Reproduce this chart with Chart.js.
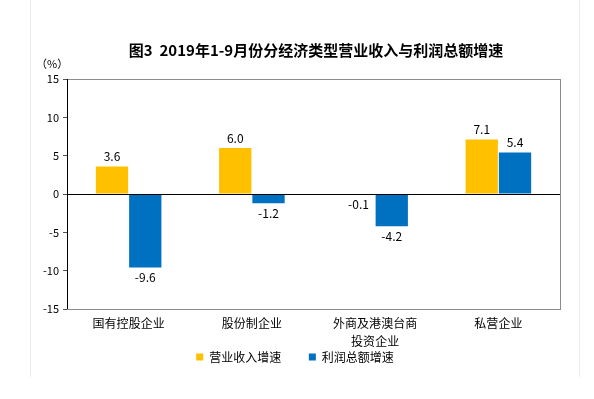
<!DOCTYPE html>
<html>
<head>
<meta charset="utf-8">
<script src="https://cdn.jsdelivr.net/npm/chart.js@4.4.0/dist/chart.umd.min.js"></script>
<style>
  html, body { margin: 0; padding: 0; background: #fff; }
  #wrap { position: relative; width: 594px; height: 399px; }
  #frame { position: absolute; left: 30px; top: 0; width: 550px; height: 377px;
           border-left: 1px solid #ececec; border-right: 1px solid #ececec; box-sizing: border-box; }
</style>
</head>
<body>
<div id="wrap">
  <div id="frame"></div>
  <canvas id="chart" width="594" height="399"></canvas>
</div>
<script>
// data
const categories = ['国有控股企业', '股份制企业', ['外商及港澳台商', '投资企业'], '私营企业'];
const revenueGrowth = [3.6, 6.0, -0.1, 7.1];
const profitGrowth = [-9.6, -1.2, -4.2, 5.4];
const seriesNames = ['营业收入增速', '利润总额增速'];
const yTicks = [-15, -10, -5, 0, 5, 10, 15];
const chartTitle = '图3  2019年1-9月份分经济类型营业收入与利润总额增速';

const FONT = '"Noto Sans CJK SC", "Noto Sans", sans-serif';

// plot frame, title, unit label
const framePlugin = {
  id: 'frame',
  beforeDatasetsDraw(chart) {
    const { ctx, chartArea: a } = chart;
    ctx.save();
    ctx.strokeStyle = '#8c8c8c';
    ctx.lineWidth = 1;
    ctx.strokeRect(a.left + 0.5, a.top + 0.5, a.right - a.left, a.bottom - a.top);
    ctx.restore();
  },
  afterDraw(chart) {
    const { ctx, chartArea: a } = chart;
    ctx.save();
    ctx.fillStyle = '#000';
    ctx.textBaseline = 'middle';
    ctx.font = 'bold 15px ' + FONT;
    ctx.textAlign = 'center';
    ctx.fillText(chartTitle, 316, 50);
    ctx.font = '11px ' + FONT;
    ctx.textAlign = 'left';
    ctx.fillText('（%）', a.left - 31, a.top - 15);
    // left axis + zero line on top
    const y0 = chart.scales.y.getPixelForValue(0);
    ctx.strokeStyle = '#000';
    ctx.beginPath();
    ctx.moveTo(a.left, y0 + 0.5);
    ctx.lineTo(a.right, y0 + 0.5);
    ctx.moveTo(a.left + 0.5, a.top);
    ctx.lineTo(a.left + 0.5, a.bottom);
    ctx.stroke();
    ctx.restore();
  }
};

// value labels
const labelPlugin = {
  id: 'valueLabels',
  afterDatasetsDraw(chart) {
    const { ctx } = chart;
    ctx.save();
    ctx.fillStyle = '#000';
    ctx.font = '12px ' + FONT;
    ctx.textAlign = 'center';
    chart.data.datasets.forEach((ds, i) => {
      chart.getDatasetMeta(i).data.forEach((bar, j) => {
        const v = ds.data[j];
        if (v >= 0) {
          ctx.textBaseline = 'bottom';
          ctx.fillText(v.toFixed(1), bar.x, bar.y - 4);
        } else {
          ctx.textBaseline = 'top';
          ctx.fillText(v.toFixed(1), bar.x, bar.y + 4);
        }
      });
    });
    ctx.restore();
  }
};

new Chart(document.getElementById('chart'), {
  type: 'bar',
  data: {
    labels: categories,
    datasets: [
      { label: seriesNames[0], data: revenueGrowth, backgroundColor: '#FFC000' },
      { label: seriesNames[1], data: profitGrowth, backgroundColor: '#0070C0' }
    ]
  },
  options: {
    responsive: false,
    animation: false,
    devicePixelRatio: 1,
    datasets: { bar: { categoryPercentage: 0.54, barPercentage: 0.97 } },
    layout: { padding: { left: 30, right: 34, top: 79, bottom: 26 } },
    plugins: {
      title: { display: false },
      legend: {
        position: 'bottom',
        labels: {
          color: '#000',
          font: { family: FONT, size: 12 },
          boxWidth: 7,
          boxHeight: 7,
          padding: 1,
          generateLabels(chart) {
            const items = Chart.defaults.plugins.legend.labels.generateLabels(chart);
            items[0].text += '\u3000\u3000 ';
            return items;
          }
        }
      },
      tooltip: { enabled: false }
    },
    scales: {
      x: {
        afterFit(scale) { scale.height = 41; },
        grid: { display: false, drawTicks: false },
        border: { display: false },
        ticks: { color: '#000', font: { family: FONT, size: 12, lineHeight: 1.5 }, padding: 5, maxRotation: 0 }
      },
      y: {
        min: -15,
        max: 15,
        afterBuildTicks(scale) { scale.ticks = yTicks.map(v => ({ value: v })); },
        afterFit(scale) { scale.width = 37; },
        grid: { color: 'transparent', tickColor: '#555', tickLength: 4, drawOnChartArea: false },
        border: { display: false },
        ticks: { color: '#000', font: { family: FONT, size: 11 }, padding: 4 }
      }
    }
  },
  plugins: [framePlugin, labelPlugin]
});
</script>
</body>
</html>
